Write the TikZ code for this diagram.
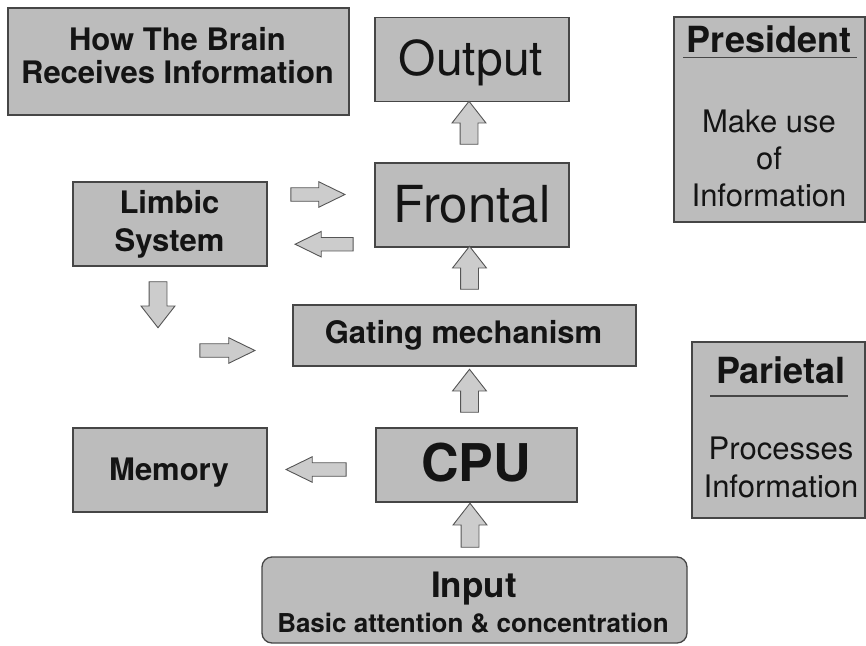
\documentclass[tikz,border=0pt]{standalone}
\usepackage{fontspec}
\setmainfont{TeX Gyre Heros}
\usetikzlibrary{shapes.arrows}

\definecolor{boxfill}{RGB}{188,188,188}
\definecolor{boxline}{RGB}{70,70,70}
\definecolor{arrfill}{RGB}{204,204,204}
\definecolor{arrline}{RGB}{85,85,85}

\tikzset{
  box/.style={draw=boxline, fill=boxfill, line width=1.3pt, inner sep=0pt},
  txt/.style={inner sep=0pt, text=black!92},
  bigarrow/.style={single arrow, draw=arrline, fill=arrfill, line width=0.9pt,
    inner xsep=0pt, inner ysep=8.5pt,
    single arrow head extend=8pt, single arrow tip angle=76},
  smallarrow/.style={single arrow, draw=arrline, fill=arrfill, line width=0.9pt,
    inner xsep=0pt, inner ysep=6.3pt,
    single arrow head extend=6pt, single arrow tip angle=52}
}

\begin{document}
\begin{tikzpicture}[x=1pt, y=-1pt]
\useasboundingbox (0,0) rectangle (866,645);

% boxes
\node[box, minimum width=341, minimum height=107] (title) at (178.5,61.5) {};
\node[box, minimum width=194, minimum height=84] (output) at (472,59.3) {};
\node[box, minimum width=194, minimum height=84] (frontal) at (472,205) {};
\node[box, minimum width=191, minimum height=205] (president) at (769.5,119.5) {};
\node[box, minimum width=194, minimum height=84] (limbic) at (170,224) {};
\node[box, minimum width=343, minimum height=61] (gating) at (464.5,335.5) {};
\node[box, minimum width=173, minimum height=176] (parietal) at (778.5,430) {};
\node[box, minimum width=194, minimum height=84] (memory) at (170,470) {};
\node[box, minimum width=201, minimum height=74] (cpu) at (476.5,465) {};
\node[box, rounded corners=10pt, minimum width=425, minimum height=86] (input) at (474.5,600) {};

% texts
\node[txt, align=center, font=\fontsize{31}{33}\selectfont\bfseries] (titletxt) at (177.5,56)
  {How The Brain\\Receives Information};
\node[txt, anchor=base, font=\fontsize{48}{48}\selectfont] (outputtxt) at (471,75) {Output};
\node[txt, anchor=base, font=\fontsize{51}{51}\selectfont] (frontaltxt) at (472,222) {Frontal};
\node[txt, anchor=base, font=\fontsize{36}{36}\selectfont\bfseries] (presidenttxt) at (769,52) {President};
\draw[boxline, line width=1.5pt] (683,57.5) -- (857,57.5);
\node[txt, align=center, font=\fontsize{31}{37}\selectfont] (presidentsub) at (769,158.7)
  {Make use\\of\\Information};
\node[txt, align=center, font=\fontsize{31}{38}\selectfont\bfseries] (limbictxt) at (169.5,224.6)
  {Limbic\\System};
\node[txt, anchor=base, font=\fontsize{31}{31}\selectfont\bfseries] (gatingtxt) at (463.5,343) {Gating mechanism};
\node[txt, anchor=base, font=\fontsize{36}{36}\selectfont\bfseries] (parietaltxt) at (781,383) {Parietal};
\draw[boxline, line width=1.5pt] (710,396) -- (848,396);
\node[txt, align=center, font=\fontsize{31}{38}\selectfont] (parietalsub) at (781,467.9)
  {Processes\\Information};
\node[txt, anchor=base, font=\fontsize{31}{31}\selectfont\bfseries] (memorytxt) at (169,480) {Memory};
\node[txt, anchor=base, font=\fontsize{52}{52}\selectfont\bfseries] (cputxt) at (476,481.7) {CPU};
\node[txt, anchor=base, font=\fontsize{35}{35}\selectfont\bfseries] (inputtxt) at (474,597) {Input};
\node[txt, anchor=base, font=\fontsize{26}{26}\selectfont\bfseries] (inputsub) at (473,632)
  {Basic attention \& concentration};

% block arrows
\node[bigarrow, minimum height=43, rotate=90] (frontout) at (469,128.5) {};
\node[bigarrow, minimum height=43, rotate=90] (gatefront) at (469.5,273.5) {};
\node[bigarrow, minimum height=43, rotate=90] (cpugate) at (469.5,396.5) {};
\node[bigarrow, minimum height=44, rotate=90] (inputcpu) at (470,531) {};
\node[bigarrow, minimum height=46, rotate=-90] (limbicdown) at (158,299) {};
\node[smallarrow, minimum height=54] (limbicfront) at (311,194.5) {};
\node[smallarrow, minimum height=58, rotate=180] (frontlimbic) at (331,244.2) {};
\node[smallarrow, minimum height=55] (togating) at (220.5,350.5) {};
\node[smallarrow, minimum height=60, rotate=180] (cpumemory) at (323,469.5) {};

\end{tikzpicture}
\end{document}
